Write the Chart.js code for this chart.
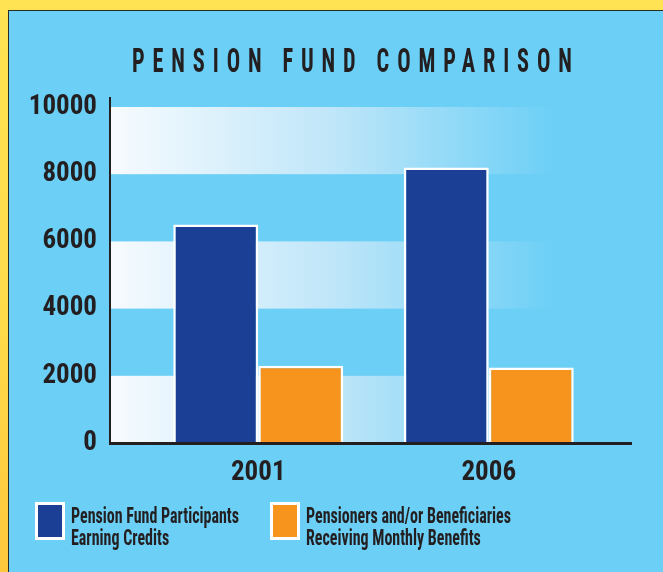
<!DOCTYPE html>
<html><head><meta charset="utf-8">
<script src="https://cdn.jsdelivr.net/npm/chart.js@4/dist/chart.umd.min.js"></script>
<style>
html,body{margin:0;padding:0;width:663px;height:572px;overflow:hidden;}
body{position:relative;background:linear-gradient(180deg,#ffe352 0%,#ffdb4a 55%,#ffc83c 100%);
  font-family:'Roboto Condensed','Open Sans Condensed',sans-serif;color:#231f20;}
#panel{position:absolute;left:8px;top:10px;width:655px;height:562px;background:#6bcff6;border-left:1px solid #2a2a2a;border-top:1px solid #2a2a2a;}
#chart{position:absolute;left:0;top:0;}
#title{position:absolute;left:132px;top:40px;white-space:nowrap;font-size:34px;font-weight:bold;letter-spacing:12px;transform-origin:0 0;line-height:40px;}
.leg{position:absolute;top:502px;display:flex;align-items:flex-start;}
.sw{width:30px;height:38px;box-sizing:border-box;border:3px solid #fff;flex:none;}
.lt{font-weight:bold;font-size:22px;line-height:22px;white-space:nowrap;transform-origin:0 0;margin-top:3px;}
</style></head>
<body>
<div id="panel"></div>
<canvas id="chart" width="663" height="572"></canvas>
<div id="title"></div>
<div id="legend"></div>
<script>
const titleText = 'PENSION FUND COMPARISON';
const categories = ['2001', '2006'];
const participants = [6500, 8200];
const pensioners = [2300, 2250];
const yTicks = [0, 2000, 4000, 6000, 8000, 10000];
const seriesNames = [
  ['Pension Fund Participants', 'Earning Credits'],
  ['Pensioners and/or Beneficiaries', 'Receiving Monthly Benefits']
];
const seriesColors = ['#1b3f95', '#f7941e'];

const FONT = "'Roboto Condensed','Open Sans Condensed',sans-serif";

// Title
const t = document.getElementById('title');
t.textContent = titleText;
const tw = t.getBoundingClientRect().width - 12;
t.style.transform = 'scaleX(' + (440 / tw) + ')';

// Legend
const legend = document.getElementById('legend');
const legLeft = [35, 270];
seriesNames.forEach((lines, i) => {
  const d = document.createElement('div');
  d.className = 'leg';
  d.style.left = legLeft[i] + 'px';
  const sw = document.createElement('div');
  sw.className = 'sw';
  sw.style.background = seriesColors[i];
  const lt = document.createElement('div');
  lt.className = 'lt';
  lt.style.marginLeft = '6px';
  lt.innerHTML = lines.join('<br>');
  d.appendChild(sw); d.appendChild(lt);
  legend.appendChild(d);
});
const lts = document.querySelectorAll('.lt');
const w0 = lts[0].getBoundingClientRect().width;
const sc = 168 / w0;
lts.forEach(e => e.style.transform = 'scaleX(' + sc + ')');

const bandPlugin = {
  id: 'bands',
  beforeDatasetsDraw(chart) {
    const {ctx, chartArea, scales: {y}} = chart;
    const x0 = chartArea.left - 33, x1 = chartArea.right + 28;
    const g = ctx.createLinearGradient(x0, 0, x0 + 447, 0);
    g.addColorStop(0, '#f7fbfe');
    g.addColorStop(0.5, '#bfe6f9');
    g.addColorStop(1, '#6bcff6');
    ctx.save();
    ctx.fillStyle = g;
    for (let i = 0; i < yTicks.length - 1; i += 2) {
      const top = y.getPixelForValue(yTicks[i + 1]);
      const bot = y.getPixelForValue(yTicks[i]);
      ctx.fillRect(x0, top, x1 - x0, bot - top);
    }
    ctx.restore();
  },
  afterDatasetsDraw(chart) {
    const {ctx, chartArea} = chart;
    const x0 = chartArea.left - 33, x1 = chartArea.right + 28;
    ctx.save();
    ctx.strokeStyle = '#231f20';
    ctx.lineWidth = 2;
    ctx.beginPath();
    ctx.moveTo(x0, chartArea.top - 10);
    ctx.lineTo(x0, chartArea.bottom + 1);
    ctx.stroke();
    ctx.lineWidth = 3;
    ctx.beginPath();
    ctx.moveTo(x0 - 1, chartArea.bottom + 0.5);
    ctx.lineTo(x1, chartArea.bottom + 0.5);
    ctx.stroke();
    ctx.restore();
  }
};

new Chart(document.getElementById('chart'), {
  type: 'bar',
  data: {
    labels: categories,
    datasets: [
      {label: seriesNames[0].join(' '), data: participants, backgroundColor: seriesColors[0],
       borderColor: '#ffffff', borderWidth: 2.5, categoryPercentage: 0.7375, barPercentage: 1},
      {label: seriesNames[1].join(' '), data: pensioners, backgroundColor: seriesColors[1],
       borderColor: '#ffffff', borderWidth: 2.5, categoryPercentage: 0.7375, barPercentage: 1}
    ]
  },
  options: {
    responsive: false,
    animation: false,
    layout: {padding: {top: 107, bottom: 89, left: 0, right: 59}},
    plugins: {legend: {display: false}, title: {display: false}, tooltip: {enabled: false}},
    scales: {
      x: {
        grid: {display: false, drawTicks: false},
        border: {display: false},
        ticks: {font: {family: FONT, size: 27, weight: 'bold'}, color: '#231f20', padding: 14},
        afterFit(s) { s.height = 40; }
      },
      y: {
        min: 0, max: 10000,
        afterBuildTicks(s) { s.ticks = yTicks.map(v => ({value: v})); },
        grid: {display: false, drawTicks: false},
        border: {display: false},
        ticks: {font: {family: FONT, size: 27, weight: 'bold'}, color: '#231f20', padding: 46,
                callback: v => String(v)},
        afterFit(s) { s.width = 143; }
      }
    }
  },
  plugins: [bandPlugin]
});
</script>
</body></html>
